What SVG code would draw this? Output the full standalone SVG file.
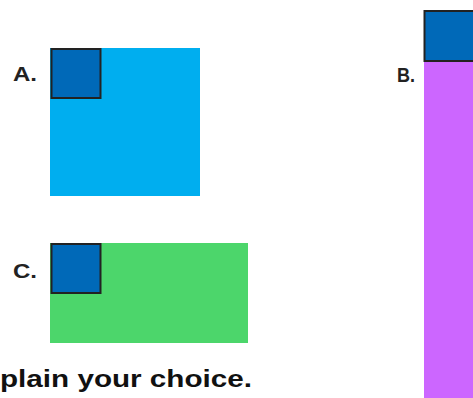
<svg xmlns="http://www.w3.org/2000/svg" width="473" height="398" viewBox="0 0 473 398">
<style>
.lbl{font-family:"Liberation Sans",Arial,sans-serif;font-size:21px;font-weight:bold;fill:#222}
.unit{fill:#0069B8;stroke:#222;stroke-width:2}
.txt{font-family:"Liberation Sans",Arial,sans-serif;font-size:23px;font-weight:bold;fill:#111}
</style>
<rect width="473" height="398" fill="#fff"/>
<g id="A">
<rect x="50" y="48" width="150" height="148" fill="#00AEEF"/>
<rect class="unit" x="51.5" y="49" width="49" height="49"/>
<text class="lbl" x="13" y="81" textLength="24" lengthAdjust="spacingAndGlyphs">A.</text>
</g>
<g id="B">
<rect x="424" y="60" width="50" height="340" fill="#CC66FF"/>
<rect class="unit" x="424.5" y="11" width="50" height="50"/>
<text class="lbl" x="397" y="82" textLength="18" lengthAdjust="spacingAndGlyphs">B.</text>
</g>
<g id="C">
<rect x="50" y="243" width="198" height="100" fill="#4CD66B"/>
<rect class="unit" x="51.5" y="244" width="49" height="49"/>
<text class="lbl" x="13" y="278" textLength="24" lengthAdjust="spacingAndGlyphs">C.</text>
</g>
<text class="txt" x="0" y="387" textLength="252" lengthAdjust="spacingAndGlyphs">plain your choice.</text>
</svg>
